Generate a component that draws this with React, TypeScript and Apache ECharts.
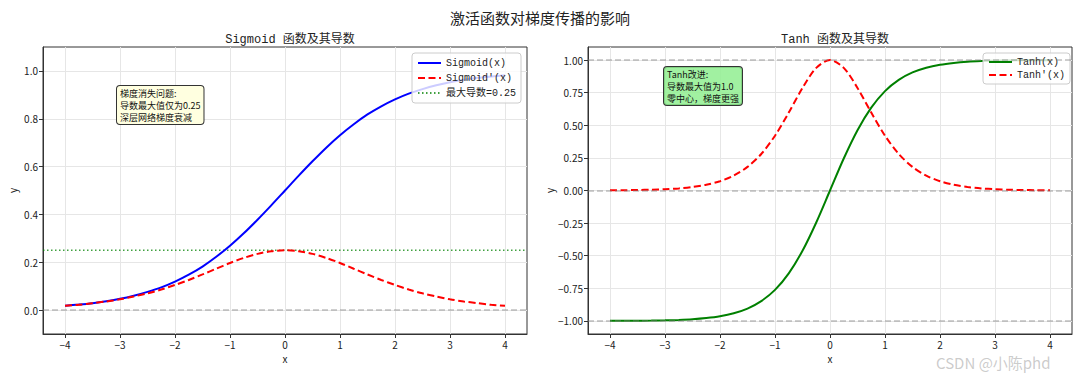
import React, { useEffect, useRef } from "react";
import * as echarts from "echarts";

const xs = [-4, -3.75, -3.5, -3.25, -3, -2.75, -2.5, -2.25, -2, -1.75, -1.5, -1.25, -1, -0.75, -0.5, -0.25, 0, 0.25, 0.5, 0.75, 1, 1.25, 1.5, 1.75, 2, 2.25, 2.5, 2.75, 3, 3.25, 3.5, 3.75, 4];
const sigmoidVals = [0.018, 0.023, 0.029, 0.037, 0.047, 0.060, 0.076, 0.095, 0.119, 0.148, 0.182, 0.223, 0.269, 0.321, 0.378, 0.438, 0.5, 0.562, 0.622, 0.679, 0.731, 0.777, 0.818, 0.852, 0.881, 0.905, 0.924, 0.940, 0.953, 0.963, 0.971, 0.977, 0.982];
const sigmoidGrad = [0.018, 0.022, 0.029, 0.036, 0.045, 0.057, 0.070, 0.086, 0.105, 0.126, 0.149, 0.173, 0.197, 0.218, 0.235, 0.246, 0.25, 0.246, 0.235, 0.218, 0.197, 0.173, 0.149, 0.126, 0.105, 0.086, 0.070, 0.057, 0.045, 0.036, 0.029, 0.022, 0.018];
const tanhVals = [-0.999, -0.999, -0.998, -0.997, -0.995, -0.992, -0.987, -0.978, -0.964, -0.941, -0.905, -0.848, -0.762, -0.635, -0.462, -0.245, 0, 0.245, 0.462, 0.635, 0.762, 0.848, 0.905, 0.941, 0.964, 0.978, 0.987, 0.992, 0.995, 0.997, 0.998, 0.999, 0.999];
const tanhGrad = [0.001, 0.002, 0.004, 0.006, 0.010, 0.016, 0.027, 0.044, 0.071, 0.114, 0.181, 0.280, 0.420, 0.597, 0.786, 0.940, 1, 0.940, 0.786, 0.597, 0.420, 0.280, 0.181, 0.114, 0.071, 0.044, 0.027, 0.016, 0.010, 0.006, 0.004, 0.002, 0.001];

const xTicks = [-4, -3, -2, -1, 0, 1, 2, 3, 4];
const sigYTicks = [0, 0.2, 0.4, 0.6, 0.8, 1.0];
const tanhYTicks = [-1, -0.75, -0.5, -0.25, 0, 0.25, 0.5, 0.75, 1];
const xRange = [-4.4, 4.4];
const sigYRange = [-0.1, 1.1];
const tanhYRange = [-1.1, 1.1];
const maxSigGrad = 0.25;
const sigRefLines = [0];
const tanhRefLines = [-1, 0, 1];

const MONO = "'Liberation Mono', 'Noto Sans CJK SC', monospace";
const CJK = "'Noto Sans CJK SC', sans-serif";

const fmt = (v: number, d: number) => (v < 0 ? "\u2212" + Math.abs(v).toFixed(d) : v.toFixed(d));

function xAxisCfg(gridIndex: number) {
  return {
    type: "value",
    gridIndex,
    min: xRange[0],
    max: xRange[1],
    name: "x",
    nameLocation: "middle",
    nameGap: 19,
    nameTextStyle: { fontFamily: CJK, fontSize: 10, color: "#222" },
    axisLine: { show: true, onZero: false, lineStyle: { color: "#333", width: 1 } },
    axisTick: { show: true, length: 4, customValues: xTicks, lineStyle: { color: "#333" } },
    axisLabel: { customValues: xTicks, fontFamily: CJK, fontSize: 10, color: "#222", margin: 5, formatter: (v: number) => fmt(v, 0) },
    splitLine: { show: true, lineStyle: { color: "#e6e6e6", width: 1 } },
  };
}

function yAxisCfg(gridIndex: number, range: number[], ticks: number[], dec: number, gap: number) {
  return {
    type: "value",
    gridIndex,
    min: range[0],
    max: range[1],
    name: "y",
    nameLocation: "middle",
    nameGap: gap,
    nameRotate: 90,
    nameTextStyle: { fontFamily: CJK, fontSize: 10, color: "#222" },
    axisLine: { show: true, onZero: false, lineStyle: { color: "#333", width: 1 } },
    axisTick: { show: true, length: 4, customValues: ticks, lineStyle: { color: "#333" } },
    axisLabel: { customValues: ticks, fontFamily: CJK, fontSize: 10, color: "#222", margin: 5, formatter: (v: number) => fmt(v, dec) },
    splitLine: { show: true, lineStyle: { color: "#e6e6e6", width: 1 } },
  };
}

function refMarkLine(vals: number[]) {
  return {
    silent: true,
    symbol: "none",
    label: { show: false },
    lineStyle: { color: "rgba(128,128,128,0.5)", width: 1.5, type: [6, 3] },
    data: vals.map((v) => ({ yAxis: v })),
  };
}

const pairs = (ys: number[]) => xs.map((x, i) => [x, ys[i]]);

export default function App() {
  const ref = useRef<HTMLDivElement>(null);
  useEffect(() => {
    if (!ref.current) return;
    const chart = echarts.init(ref.current, null, { renderer: "svg" });
    const legendCommon = {
      orient: "vertical",
      itemWidth: 23,
      itemHeight: 12,
      backgroundColor: "rgba(255,255,255,0.8)",
      borderColor: "#cccccc",
      borderWidth: 1,
      borderRadius: 3,
      itemStyle: { opacity: 0, borderWidth: 0 },
      textStyle: { fontFamily: MONO, fontSize: 10, color: "#222" },
    };
    chart.setOption({
      animation: false,
      backgroundColor: "#ffffff",
      title: [
        { text: "激活函数对梯度传播的影响", left: "center", top: 5, textStyle: { fontFamily: CJK, fontSize: 15, fontWeight: "normal", color: "#222" } },
        { text: "Sigmoid 函数及其导数", left: 285, top: 29, textAlign: "center", textStyle: { fontFamily: MONO, fontSize: 12, fontWeight: "normal", color: "#222" } },
        { text: "Tanh 函数及其导数", left: 830, top: 29, textAlign: "center", textStyle: { fontFamily: MONO, fontSize: 12, fontWeight: "normal", color: "#222" } },
      ],
      grid: [
        { left: 43, top: 47, width: 484, height: 287, show: true, borderColor: "#333", borderWidth: 1, backgroundColor: "transparent" },
        { left: 588, top: 47, width: 484, height: 287, show: true, borderColor: "#333", borderWidth: 1, backgroundColor: "transparent" },
      ],
      xAxis: [xAxisCfg(0), xAxisCfg(1)],
      yAxis: [yAxisCfg(0, sigYRange, sigYTicks, 1, 26), yAxisCfg(1, tanhYRange, tanhYTicks, 2, 34)],
      legend: [
        { ...legendCommon, left: 412, top: 53, padding: [5, 5], itemGap: 5, data: ["Sigmoid(x)", "Sigmoid'(x)", "最大导数=0.25"] },
        { ...legendCommon, left: 983, top: 53, padding: [4, 5], itemGap: 3, data: ["Tanh(x)", "Tanh'(x)"] },
      ],
      series: [
        {
          name: "sigref", type: "line", xAxisIndex: 0, yAxisIndex: 0, data: [], z: 1,
          markLine: refMarkLine(sigRefLines),
        },
        {
          name: "Sigmoid(x)", type: "line", xAxisIndex: 0, yAxisIndex: 0, data: pairs(sigmoidVals),
          smooth: 0.3, showSymbol: false, symbol: "none", z: 3,
          lineStyle: { color: "#0000ff", width: 2 }, itemStyle: { color: "#0000ff" },
        },
        {
          name: "Sigmoid'(x)", type: "line", xAxisIndex: 0, yAxisIndex: 0, data: pairs(sigmoidGrad),
          smooth: 0.3, showSymbol: false, symbol: "none", z: 4,
          lineStyle: { color: "#ff0000", width: 2, type: [7, 3.5] }, itemStyle: { color: "#ff0000" },
        },
        {
          name: "最大导数=0.25", type: "line", xAxisIndex: 0, yAxisIndex: 0,
          data: [[xRange[0], maxSigGrad], [xRange[1], maxSigGrad]],
          showSymbol: false, symbol: "none", z: 2,
          lineStyle: { color: "rgba(0,128,0,0.75)", width: 1.5, type: [1.5, 2.5] }, itemStyle: { color: "#008000" },
        },
        {
          name: "tanhref", type: "line", xAxisIndex: 1, yAxisIndex: 1, data: [], z: 1,
          markLine: refMarkLine(tanhRefLines),
        },
        {
          name: "Tanh(x)", type: "line", xAxisIndex: 1, yAxisIndex: 1, data: pairs(tanhVals),
          smooth: 0.3, showSymbol: false, symbol: "none", z: 3,
          lineStyle: { color: "#008000", width: 2 }, itemStyle: { color: "#008000" },
        },
        {
          name: "Tanh'(x)", type: "line", xAxisIndex: 1, yAxisIndex: 1, data: pairs(tanhGrad),
          smooth: 0.3, showSymbol: false, symbol: "none", z: 4,
          lineStyle: { color: "#ff0000", width: 2, type: [7, 3.5] }, itemStyle: { color: "#ff0000" },
        },
      ],
      graphic: [
        {
          type: "text", x: 117, y: 86, z: 10,
          style: {
            text: "梯度消失问题:\n导数最大值仅为0.25\n深层网络梯度衰减",
            fontFamily: CJK, fontSize: 9, lineHeight: 12, fill: "#111",
            backgroundColor: "#ffffe0", borderColor: "#333", borderWidth: 1, borderRadius: 3, padding: [1, 3],
          },
        },
        {
          type: "text", x: 664, y: 67, z: 10,
          style: {
            text: "Tanh改进:\n导数最大值为1.0\n零中心，梯度更强",
            fontFamily: CJK, fontSize: 9, lineHeight: 12, fill: "#111",
            backgroundColor: "rgba(144,238,144,0.85)", borderColor: "#333", borderWidth: 1, borderRadius: 3, padding: [1, 3],
          },
        },
        {
          type: "text", x: 936, y: 355, z: 20,
          style: { text: "CSDN @小陈phd", fontFamily: CJK, fontSize: 15, fill: "rgba(160,160,160,0.55)" },
        },
      ],
    });
    return () => chart.dispose();
  }, []);
  return <div ref={ref} style={{ position: "fixed", left: 0, top: 0, width: 1080, height: 373 }} />;
}
